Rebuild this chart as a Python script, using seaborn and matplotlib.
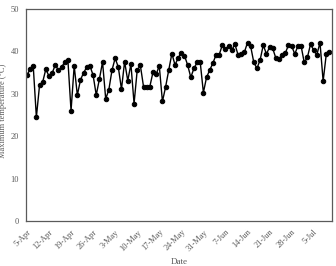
import numpy as np
import pandas as pd
import matplotlib
matplotlib.use("Agg")
import matplotlib.pyplot as plt
import seaborn as sns

temps = [34.4, 35.8, 36.6, 24.5, 32.0, 32.8, 35.8, 34.2, 34.9, 36.8,
         35.6, 36.3, 37.5, 38.0, 26.0, 36.6, 29.7, 33.3, 35.0, 36.3,
         36.6, 34.4, 29.7, 33.5, 37.5, 28.8, 31.0, 35.6, 38.4, 36.3,
         31.1, 37.6, 33.1, 37.0, 27.7, 35.6, 36.7, 31.7, 31.7, 31.7,
         35.1, 34.6, 36.6, 28.2, 31.6, 35.6, 39.5, 36.8, 38.5, 39.7,
         39.0, 36.8, 33.9, 36.0, 37.4, 37.4, 30.3, 33.9, 35.6, 37.2,
         39.2, 39.2, 41.5, 40.6, 41.3, 40.3, 41.7, 39.2, 39.4, 39.8,
         42.1, 41.2, 37.4, 36.0, 38.0, 41.5, 39.4, 41.0, 40.7, 38.4,
         38.2, 39.2, 39.6, 41.5, 41.3, 39.4, 41.3, 41.3, 37.4, 38.6,
         41.7, 40.3, 39.2, 42.1, 33.0, 39.4, 39.9]
start_date = "2020-04-05"
tick_labels = ["5-Apr", "12-Apr", "19-Apr", "26-Apr", "3-May", "10-May",
               "17-May", "24-May", "31-May", "7-Jun", "14-Jun", "21-Jun",
               "28-Jun", "5-Jul"]
y_ticks = [0, 10, 20, 30, 40, 50]

dates = pd.date_range(start_date, periods=len(temps), freq="D")
df = pd.DataFrame({"Date": dates, "Tmax": temps})

sns.set_style("white")
plt.rcParams["font.family"] = ["Liberation Serif", "DejaVu Serif"]

fig = plt.figure(figsize=(3.36, 2.66), dpi=100)
ax = fig.add_axes([0.077, 0.169, 0.911, 0.797])

sns.lineplot(data=df, x="Date", y="Tmax", ax=ax, color="black",
             linewidth=1.0, marker="o", markersize=3.2,
             markeredgecolor="black", markerfacecolor="black")

tick_pos = pd.date_range(start_date, periods=len(tick_labels), freq="7D")
ax.set_xticks(tick_pos)
ax.set_xticklabels(tick_labels, rotation=45, ha="right",
                   rotation_mode="anchor", fontsize=6, color="#595959")
ax.set_xlim(dates[0] - pd.Timedelta(hours=8), dates[0] + pd.Timedelta(days=96.8))
ax.set_ylim(0, 50)
ax.set_yticks(y_ticks)
ax.set_yticklabels([str(v) for v in y_ticks], fontsize=6, color="#595959")

ax.tick_params(axis="both", which="both", direction="out", length=3,
               width=0.8, color="#7f7f7f", pad=2)
for s in ax.spines.values():
    s.set_color("#5a5a5a")
    s.set_linewidth(0.9)
    s.set_visible(True)

ax.set_xlabel("Date", fontsize=6.5, color="#595959", labelpad=4)
ax.set_ylabel("Maximum temperature (°C)", fontsize=6, color="#595959")
ax.yaxis.set_label_coords(-0.062, 0.52)

fig.savefig("out.png", dpi=100)
